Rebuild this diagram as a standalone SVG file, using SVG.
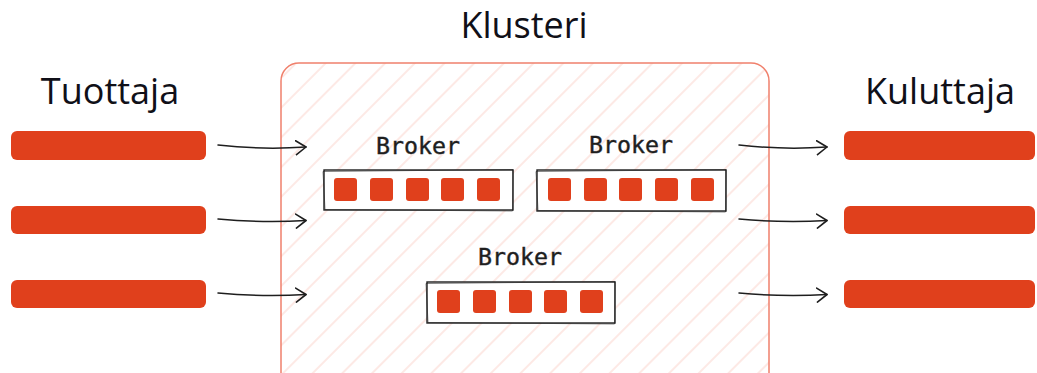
<svg xmlns="http://www.w3.org/2000/svg" width="1037" height="373" viewBox="0 0 1037 373">
<defs>
<pattern id="hatch" width="21" height="21" patternUnits="userSpaceOnUse" patternTransform="rotate(45)">
<line x1="2" y1="0" x2="2" y2="21" stroke="#fbd3cb" stroke-width="1"/>
</pattern>
<marker id="arr" viewBox="0 0 12 16" refX="11" refY="8" markerWidth="12" markerHeight="16" markerUnits="userSpaceOnUse" orient="auto">
<path d="M1,1 L11,8 L1,15" fill="none" stroke="#1e1e1e" stroke-width="1.6" stroke-linecap="round" stroke-linejoin="round"/>
</marker>
</defs>
<style>
.bar{fill:#e0401c}
.sq{fill:#e0401c}
.box{fill:#fff;stroke:#1e1e1e;stroke-width:1.4}
.box2{fill:none;stroke:#1e1e1e;stroke-width:0.8;opacity:0.7}
.title{font-family:"Open Sans","Liberation Sans",sans-serif;font-size:36px;fill:#101018}
.blab{font-family:"DejaVu Sans Mono","Liberation Mono",monospace;font-size:23px;fill:#1e1e1e;stroke:#1e1e1e;stroke-width:0.4}
.conn{fill:none;stroke:#1e1e1e;stroke-width:1.5;stroke-linecap:round}
</style>
<rect width="1037" height="373" fill="#fff"/>

<g id="cluster">
<rect x="281" y="63" width="488" height="340" rx="18" fill="url(#hatch)" stroke="#f0806c" stroke-width="1.5"/>
<text class="title" x="524" y="38" text-anchor="middle">Klusteri</text>
</g>

<g id="producers">
<text class="title" x="110" y="104" text-anchor="middle">Tuottaja</text>
<rect class="bar" x="11" y="131" width="195" height="29" rx="6"/>
<rect class="bar" x="11" y="206" width="195" height="28" rx="6"/>
<rect class="bar" x="11" y="280" width="195" height="28" rx="6"/>
</g>

<g id="consumers">
<text class="title" x="940" y="104" text-anchor="middle">Kuluttaja</text>
<rect class="bar" x="844" y="131" width="191" height="29" rx="6"/>
<rect class="bar" x="844" y="206" width="191" height="28" rx="6"/>
<rect class="bar" x="844" y="280" width="191" height="28" rx="6"/>
</g>

<g id="broker1">
<text class="blab" x="418" y="154" text-anchor="middle" textLength="84" lengthAdjust="spacingAndGlyphs">Broker</text>
<rect class="box" x="324" y="170" width="189" height="40"/>
<path class="box2" d="M323,171.5 L513,169.5 L512.5,211 L325,209.5 Z"/>
<rect class="sq" x="334" y="178" width="23" height="23" rx="3"/>
<rect class="sq" x="370" y="178" width="23" height="23" rx="3"/>
<rect class="sq" x="406" y="178" width="23" height="23" rx="3"/>
<rect class="sq" x="441" y="178" width="23" height="23" rx="3"/>
<rect class="sq" x="477" y="178" width="23" height="23" rx="3"/>
</g>

<g id="broker2">
<text class="blab" x="631" y="153" text-anchor="middle" textLength="84" lengthAdjust="spacingAndGlyphs">Broker</text>
<rect class="box" x="537" y="170" width="189" height="41"/>
<path class="box2" d="M536,171.5 L726,169.5 L725.5,212 L538,210.5 Z"/>
<rect class="sq" x="548" y="178" width="23" height="23" rx="3"/>
<rect class="sq" x="584" y="178" width="23" height="23" rx="3"/>
<rect class="sq" x="619" y="178" width="23" height="23" rx="3"/>
<rect class="sq" x="655" y="178" width="23" height="23" rx="3"/>
<rect class="sq" x="691" y="178" width="23" height="23" rx="3"/>
</g>

<g id="broker3">
<text class="blab" x="520" y="265" text-anchor="middle" textLength="84" lengthAdjust="spacingAndGlyphs">Broker</text>
<rect class="box" x="427" y="282" width="188" height="41"/>
<path class="box2" d="M426,283.5 L615,281.5 L614.5,324 L428,322.5 Z"/>
<rect class="sq" x="437" y="290" width="23" height="23" rx="3"/>
<rect class="sq" x="473" y="290" width="23" height="23" rx="3"/>
<rect class="sq" x="509" y="290" width="23" height="23" rx="3"/>
<rect class="sq" x="544" y="290" width="23" height="23" rx="3"/>
<rect class="sq" x="580" y="290" width="23" height="23" rx="3"/>
</g>

<g id="connectors">
<path class="conn" marker-end="url(#arr)" d="M218,145 Q262,150 306,147"/>
<path class="conn" marker-end="url(#arr)" d="M218,219 Q262,223 306,220.5"/>
<path class="conn" marker-end="url(#arr)" d="M218,293 Q262,297 306,294.5"/>
<path class="conn" marker-end="url(#arr)" d="M739,145 Q783,150 827,147"/>
<path class="conn" marker-end="url(#arr)" d="M739,219 Q783,223 827,220.5"/>
<path class="conn" marker-end="url(#arr)" d="M739,293 Q783,297 827,294.5"/>
</g>
</svg>
